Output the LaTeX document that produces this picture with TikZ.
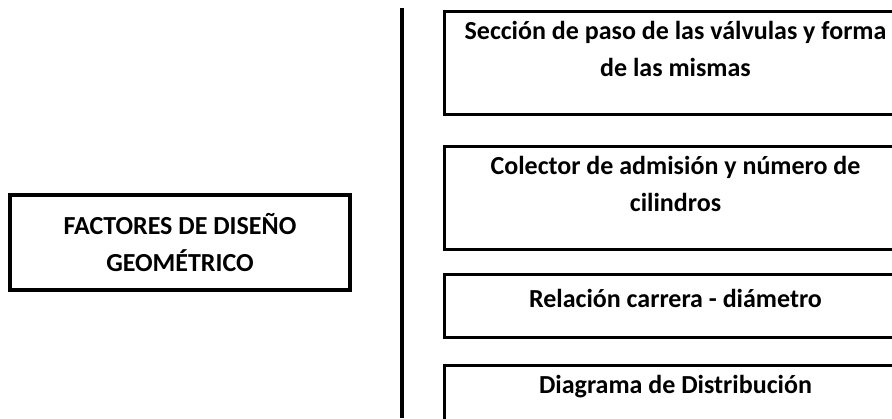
\documentclass[tikz,border=0pt]{standalone}
\usepackage{fontspec}
\setmainfont{Carlito}
\usepackage{tikz}
\usetikzlibrary{positioning}
\tikzstyle{factor} = [rectangle, draw=black, line width=3pt, minimum width=462pt, align=center, font=\bfseries\fontsize{26}{37}\selectfont]
\tikzstyle{main} = [rectangle, draw=black, line width=4pt, minimum width=340pt, minimum height=95pt, align=center, font=\bfseries\fontsize{26}{37}\selectfont]
\tikzstyle{bar} = [line width=3.5pt]

\begin{document}
\begin{tikzpicture}[x=1pt, y=-1pt]
        \useasboundingbox (0,0) rectangle (892,418);
        \clip (0,0) rectangle (892,418);
        \node (geom) [main] at (180,242.5) {FACTORES DE DISEÑO\\GEOMÉTRICO};
        \node (seccion) [factor, minimum height=103pt, text depth=28pt, anchor=north west] at (443,10) {Sección de paso de las válvulas y forma\\de las mismas};
        \node (colector) [factor, minimum height=103pt, text depth=28pt, below=29pt of seccion] {Colector de admisión y número de\\cilindros};
        \node (relacion) [factor, minimum height=63pt, text depth=16pt, below=22pt of colector] {Relación carrera - diámetro};
        \node (diagrama) [factor, minimum height=60pt, text depth=22pt, below=25pt of relacion] {Diagrama de Distribución};

        % Separator
        \coordinate (bartop) at (402,8);
        \coordinate (barbot) at (402,418);
        \draw [bar] (bartop) -- (barbot);
    \end{tikzpicture}
\end{document}
